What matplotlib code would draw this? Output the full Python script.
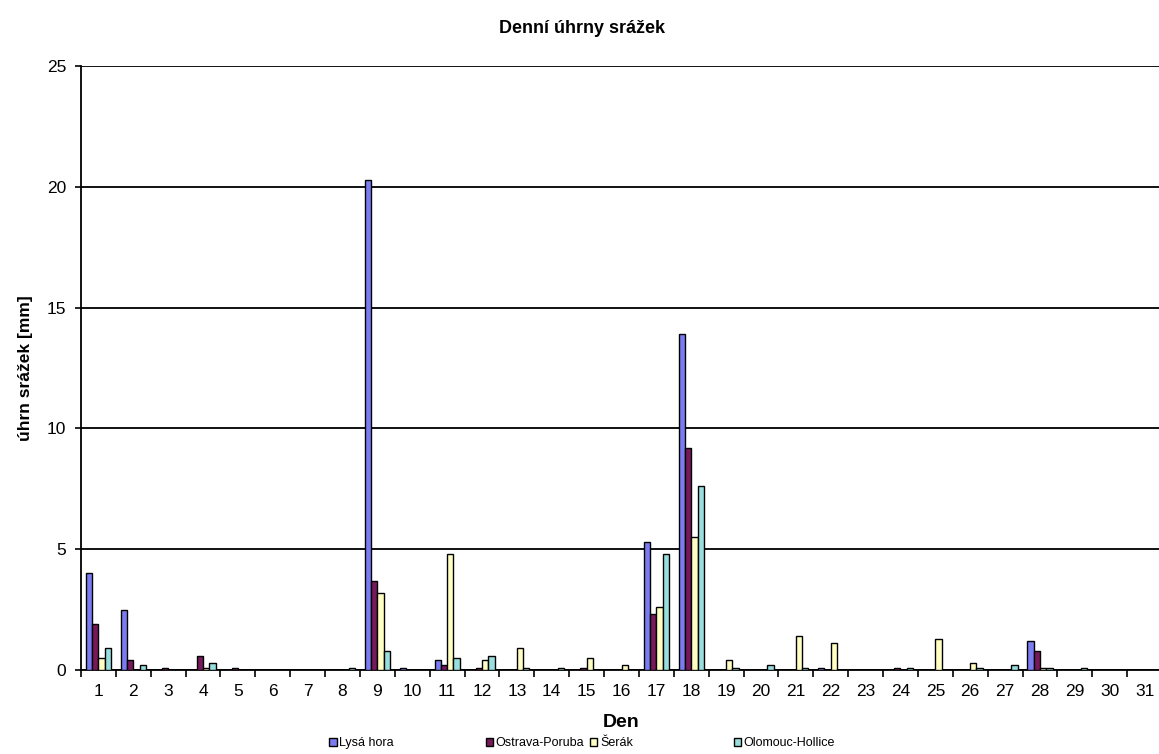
import matplotlib
matplotlib.use("Agg")
import matplotlib.pyplot as plt
import numpy as np
from matplotlib.patches import Patch

plt.rcParams['font.family'] = ['Liberation Sans', 'DejaVu Sans']

dny = list(range(1, 32))
stanice = ['Lysá hora', 'Ostrava-Poruba', 'Šerák', 'Olomouc-Hollice']

lysa_hora = [4.0, 2.5, 0, 0, 0, 0, 0, 0, 20.3, 0.1,
             0.4, 0, 0, 0, 0, 0, 5.3, 13.9, 0, 0,
             0, 0.1, 0, 0, 0, 0, 0, 1.2, 0, 0, 0]
ostrava = [1.9, 0.4, 0.1, 0.6, 0.1, 0, 0, 0, 3.7, 0,
           0.2, 0.1, 0, 0, 0.1, 0, 2.3, 9.2, 0, 0,
           0, 0, 0, 0.1, 0, 0, 0, 0.8, 0, 0, 0]
serak = [0.5, 0, 0, 0.1, 0, 0, 0, 0, 3.2, 0,
         4.8, 0.4, 0.9, 0, 0.5, 0.2, 2.6, 5.5, 0.4, 0,
         1.4, 1.1, 0, 0, 1.3, 0.3, 0, 0.1, 0, 0, 0]
olomouc = [0.9, 0.2, 0, 0.3, 0, 0, 0, 0.1, 0.8, 0,
           0.5, 0.6, 0.1, 0.1, 0, 0, 4.8, 7.6, 0.1, 0.2,
           0.1, 0, 0, 0.1, 0, 0.1, 0.2, 0.1, 0.1, 0, 0]

serie = [lysa_hora, ostrava, serak, olomouc]
barvy = ['#7C7CF2', '#77195A', '#FFFFC4', '#99DEDE']

fig = plt.figure(figsize=(11.59, 7.54), dpi=100)
ax = fig.add_axes([0.0699, 0.1114, 0.9327, 0.8011])

x = np.arange(len(dny))
sirka = 0.18
for i, (hodnoty, barva) in enumerate(zip(serie, barvy)):
    # nulove sloupce bez obrysu (jako v Excelu)
    okraje = ['black' if v > 0 else 'none' for v in hodnoty]
    ax.bar(x + (i - 1.5) * sirka, hodnoty, sirka, color=barva,
           edgecolor=okraje, linewidth=1.0, zorder=3)

ax.set_xlim(-0.5, len(dny) - 0.5)
ax.set_ylim(0, 25)
ax.set_yticks(np.arange(0, 26, 5))
ax.yaxis.grid(True, color='#111111', linewidth=1.4)
ax.set_axisbelow(True)

# hranice kategorii jako hlavni ticky, popisky uprostred
ax.set_xticks(np.arange(-0.5, len(dny), 1.0))
ax.set_xticklabels([])
ax.set_xticks(x, minor=True)
ax.set_xticklabels([str(d) for d in dny], minor=True, fontsize=12.5)
ax.tick_params(axis='x', which='major', length=5, width=1.2, direction='out')
ax.tick_params(axis='x', which='minor', length=0, pad=10)
ax.tick_params(axis='y', length=4.5, width=1.2, pad=6, labelsize=12.5)

for s in ['top', 'right']:
    ax.spines[s].set_visible(False)
for s in ['left', 'bottom']:
    ax.spines[s].set_linewidth(1.3)

ax.set_ylabel('úhrn srážek [mm]', fontsize=12.5, fontweight='bold', labelpad=10)
ax.set_xlabel('Den', fontsize=14, fontweight='bold', labelpad=11)
fig.suptitle('Denní úhrny srážek', fontsize=13, fontweight='bold', y=0.974, x=0.502)

pozice = [0.284, 0.419, 0.509, 0.633]
for nazev, barva, px in zip(stanice, barvy, pozice):
    fig.legend(handles=[Patch(facecolor=barva, edgecolor='black', linewidth=1.0)],
               labels=[nazev], loc='center left', bbox_to_anchor=(px, 0.014),
               frameon=False, fontsize=9, handlelength=0.6, handleheight=0.7,
               handletextpad=0.2, borderpad=0, borderaxespad=0)

fig.savefig('out.png', dpi=100)
